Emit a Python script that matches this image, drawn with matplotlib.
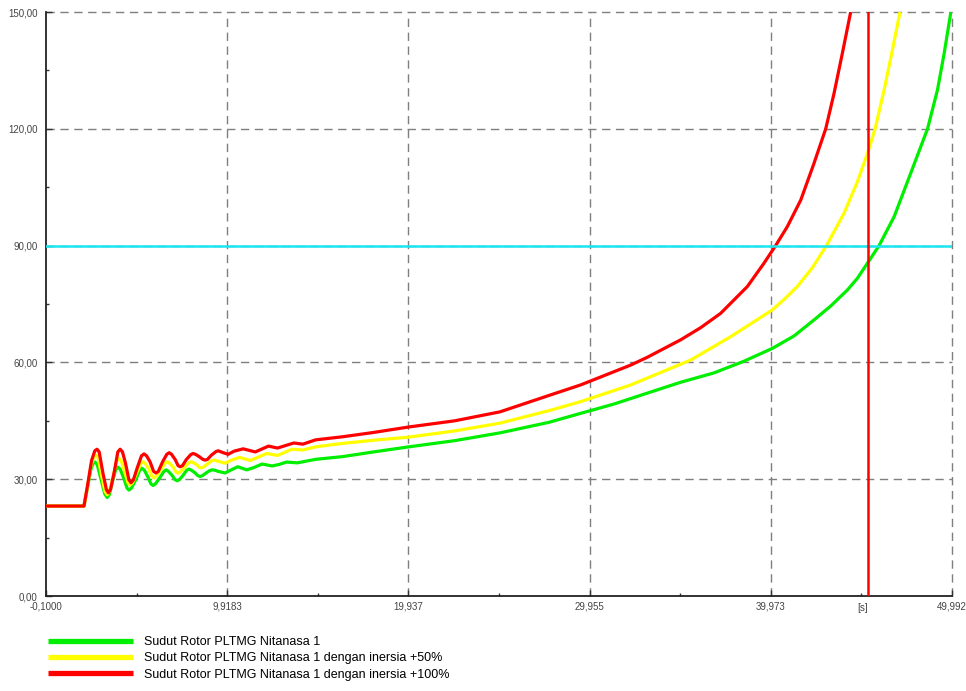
import matplotlib
matplotlib.use("Agg")
import matplotlib.pyplot as plt
import numpy as np

plt.rcParams["font.family"] = ["Liberation Sans", "DejaVu Sans"]

# rotor angle traces (deg) vs time (s)
t_base = [-0.1, 2.0, 2.2, 2.38, 2.5, 2.61, 2.73, 2.94, 3.15, 3.28, 3.4, 3.55,
          3.75, 3.88, 4.0, 4.22, 4.38, 4.49, 4.62, 4.88, 5.08, 5.21, 5.34, 5.54,
          5.7, 5.82, 5.95, 6.21, 6.42, 6.54, 6.67, 6.87, 7.03, 7.15, 7.28, 7.48,
          7.68, 7.81, 7.94, 8.15, 8.3, 8.42, 8.55, 8.75, 8.95, 9.09, 9.25, 9.42,
          9.81, 10.1, 10.5, 11.0, 11.4, 11.85, 12.4, 12.8, 13.2, 13.8, 14.8,
          16.3, 18.0, 19.94, 22.5, 25.0, 27.7, 29.45, 31.3, 33.14, 34.99, 36.83,
          38.49, 40.06, 41.26, 42.36, 43.29, 44.21, 44.76, 45.32, 45.96, 46.79,
          47.71, 48.64, 49.19, 49.56, 49.93]
delta_base = [23.1, 23.1, 28.0, 32.5, 34.0, 34.4, 33.8, 30.0, 26.2, 25.3, 26.0, 29.0,
              32.4, 33.1, 32.6, 30.0, 27.7, 27.2, 27.7, 30.0, 32.3, 32.8, 32.3, 30.5,
              28.8, 28.4, 28.8, 30.5, 32.0, 32.4, 32.0, 31.0, 29.9, 29.6, 29.9, 31.0,
              32.3, 32.6, 32.3, 31.6, 30.9, 30.7, 30.9, 31.6, 32.2, 32.4, 32.3, 32.0,
              31.6, 32.3, 33.2, 32.4, 33.0, 33.9, 33.4, 33.8, 34.4, 34.2, 35.1,
              35.8, 37.0, 38.3, 39.9, 41.9, 44.6, 46.9, 49.3, 52.1, 54.9, 57.3,
              60.3, 63.6, 66.8, 70.9, 74.5, 78.6, 81.6, 85.5, 90.0, 97.4,
              108.6, 120.0, 130.0, 139.4, 150.0]

t_50 = [-0.1, 2.0, 2.2, 2.4, 2.55, 2.67, 2.79, 2.97, 3.16, 3.28, 3.4, 3.6,
        3.8, 3.93, 4.06, 4.25, 4.43, 4.55, 4.68, 4.9, 5.14, 5.27, 5.4, 5.6,
        5.75, 5.87, 6.0, 6.25, 6.47, 6.6, 6.73, 6.95, 7.08, 7.2, 7.33, 7.55,
        7.79, 7.92, 8.05, 8.25, 8.36, 8.48, 8.6, 8.85, 9.05, 9.2, 9.5, 9.8,
        10.1, 10.6, 11.2, 12.1, 12.7, 13.5, 14.1, 14.8, 16.3, 18.0, 19.94,
        22.5, 25.0, 27.7, 29.45, 32.22, 35.54, 37.75, 38.86, 40.06, 40.74,
        41.44, 42.27, 43.05, 44.02, 44.76, 45.32, 45.74, 46.24, 46.7, 47.12]
delta_50 = [23.1, 23.1, 28.3, 33.8, 35.8, 36.2, 35.5, 31.0, 26.9, 26.0, 26.8, 30.5,
            34.6, 35.4, 34.7, 32.0, 29.1, 28.5, 29.1, 31.5, 34.0, 34.5, 34.0, 32.5,
            30.8, 30.3, 30.8, 32.5, 34.0, 34.5, 34.1, 33.0, 31.9, 31.5, 31.9, 33.0,
            34.2, 34.5, 34.2, 33.7, 33.1, 32.9, 33.1, 34.0, 34.7, 34.9, 34.5, 34.1,
            34.8, 35.6, 34.8, 36.6, 36.1, 37.7, 37.5, 38.3, 39.2, 40.0, 40.8,
            42.4, 44.4, 47.6, 49.9, 54.2, 60.6, 66.6, 69.9, 73.5, 76.3,
            79.5, 84.3, 90.0, 98.3, 106.4, 113.7, 120.0, 130.0, 140.3, 150.0]

t_100 = [-0.1, 2.0, 2.2, 2.42, 2.6, 2.72, 2.84, 3.05, 3.24, 3.35, 3.47, 3.68,
         3.87, 4.0, 4.13, 4.3, 4.48, 4.6, 4.73, 4.95, 5.18, 5.32, 5.46, 5.65,
         5.85, 5.98, 6.11, 6.35, 6.58, 6.71, 6.84, 7.05, 7.2, 7.32, 7.45, 7.65,
         7.9, 8.03, 8.16, 8.37, 8.57, 8.7, 8.83, 9.05, 9.3, 9.42, 9.7, 9.97,
         10.3, 10.8, 11.47, 12.2, 12.7, 13.6, 14.1, 14.8, 16.3, 18.0, 19.94,
         22.5, 25.0, 27.7, 29.45, 32.22, 33.14, 34.99, 36.09, 37.2, 38.68, 39.6,
         40.24, 40.89, 41.63, 42.36, 43.01, 43.47, 43.93, 44.39]
delta_100 = [23.1, 23.1, 28.5, 34.8, 37.3, 37.7, 37.0, 31.5, 27.3, 26.5, 27.4, 32.0,
             37.0, 37.7, 37.0, 34.0, 29.9, 29.1, 29.8, 33.0, 36.0, 36.5, 36.0, 34.5,
             32.0, 31.6, 32.0, 34.5, 36.4, 36.8, 36.4, 35.0, 33.5, 33.2, 33.5, 35.0,
             36.3, 36.6, 36.4, 35.8, 35.1, 34.9, 35.1, 36.2, 37.1, 37.3, 36.8, 36.4,
             37.2, 37.8, 37.0, 38.5, 38.0, 39.3, 39.0, 40.1, 40.9, 42.0, 43.4,
             45.0, 47.3, 51.5, 54.2, 59.3, 61.3, 65.8, 68.9, 72.6, 79.5, 85.5,
             90.0, 94.9, 101.7, 111.1, 120.0, 129.1, 139.4, 150.0]

labels = ["Sudut Rotor PLTMG Nitanasa 1",
          "Sudut Rotor PLTMG Nitanasa 1 dengan inersia +50%",
          "Sudut Rotor PLTMG Nitanasa 1 dengan inersia +100%"]
colors = ["#00ee00", "#ffff00", "#ff0000"]

x_ticks = [-0.1, 9.9183, 19.937, 29.955, 39.973, 49.992]
x_ticklabels = ["-0,1000", "9,9183", "19,937", "29,955", "39,973", "49,992"]
y_ticks = [0, 30, 60, 90, 120, 150]
y_ticklabels = ["0,00", "30,00", "60,00", "90,00", "120,00", "150,00"]

limit_angle = 90.0
t_marker = 45.33

fig = plt.figure(figsize=(9.66, 6.91), dpi=100)
ax = fig.add_axes([46 / 966, 95 / 691, 906 / 966, 584 / 691])

# dashed grid, drawn by hand so the border lines at 150 and 49,992 show too
grid_kw = dict(color="#7f7f7f", lw=1.0, ls=(0, (6, 4)), zorder=1, clip_on=False)
for xv in x_ticks[1:]:
    ax.axvline(xv, **grid_kw)
for yv in y_ticks[1:]:
    ax.axhline(yv, **grid_kw)

ax.axhline(limit_angle, color="#19e6f0", lw=1.8, zorder=4)

lines = []
for t, d, c, lab in zip([t_base, t_50, t_100], [delta_base, delta_50, delta_100],
                        colors, labels):
    ln, = ax.plot(t, d, color=c, lw=2.3, label=lab, zorder=3,
                  solid_joinstyle="round", solid_capstyle="butt")
    lines.append(ln)

ax.axvline(t_marker, color="#ff0000", lw=1.8, zorder=5)

ax.set_xlim(x_ticks[0], x_ticks[-1])
ax.set_ylim(0, 150)
ax.set_xticks(x_ticks)
ax.set_xticklabels(x_ticklabels)
ax.set_yticks(y_ticks)
ax.set_yticklabels(y_ticklabels)
ax.set_xticks([(a + b) / 2 for a, b in zip(x_ticks[:-1], x_ticks[1:])], minor=True)
ax.set_yticks(np.arange(15, 150, 30), minor=True)
ax.tick_params(axis="both", which="major", direction="in", length=4, width=1,
               labelsize=7, colors="#333333", labelcolor="#444444")
ax.tick_params(axis="both", which="minor", direction="in", length=2.5, width=1,
               colors="#333333")
ax.tick_params(axis="x", pad=4)
ax.tick_params(axis="y", pad=6)

for side in ["top", "right"]:
    ax.spines[side].set_visible(False)
for side in ["left", "bottom"]:
    ax.spines[side].set_linewidth(1.3)
    ax.spines[side].set_color("#222222")

ax.text(t_marker - 0.3, -1.9, "[s]", ha="center", va="top", fontsize=7,
        color="#444444")

fig.legend(handles=lines, loc="upper left", bbox_to_anchor=(48 / 966, 1 - 636 / 691),
           frameon=False, fontsize=9, handlelength=6.8, handletextpad=0.85,
           labelspacing=0.35, borderaxespad=0, borderpad=0)
for h in fig.legends[0].get_lines():
    h.set_linewidth(3.8)

fig.savefig("out.png", dpi=100)
